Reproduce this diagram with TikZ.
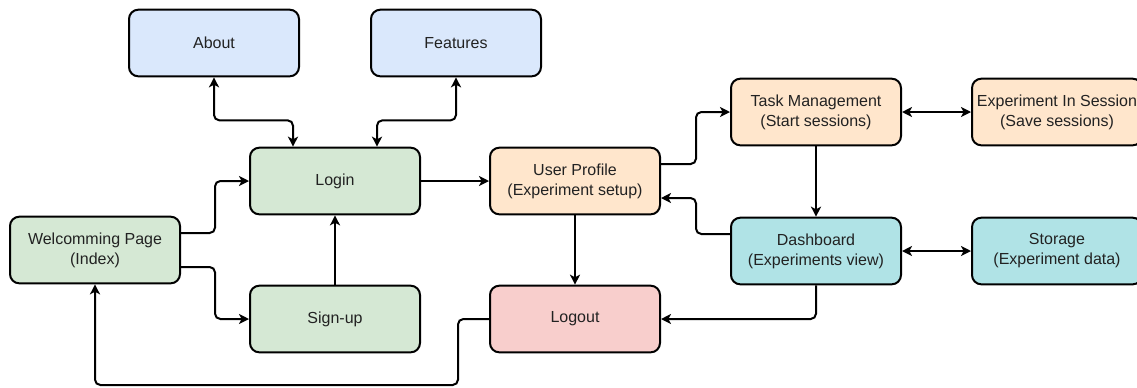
\documentclass[tikz,border=0pt]{standalone}
\usepackage{fontspec}
\setmainfont{Liberation Sans}
\usetikzlibrary{arrows.meta}
\definecolor{cblue}{HTML}{DAE8FC}
\definecolor{cgreen}{HTML}{D5E8D4}
\definecolor{corange}{HTML}{FFE6CC}
\definecolor{cteal}{HTML}{B0E3E6}
\definecolor{cred}{HTML}{F8CECC}
\definecolor{ctext}{HTML}{222222}
\begin{document}
\begin{tikzpicture}[x=0.75pt,y=-0.75pt,
  box/.style={draw=black,line width=1.5pt,rounded corners=7pt,minimum width=127.5pt,minimum height=50pt,inner sep=0pt,align=center,text=ctext,font=\fontsize{12}{15}\selectfont},
  conn/.style={line width=1.5pt,rounded corners=4pt,-{Stealth[length=7.5pt,width=7.5pt,inset=2pt]}},
  bconn/.style={line width=1.5pt,rounded corners=4pt,{Stealth[length=7.5pt,width=7.5pt,inset=2pt]}-{Stealth[length=7.5pt,width=7.5pt,inset=2pt]}}]
\useasboundingbox (0,0) rectangle (1137,387);
\coordinate (bot) at (0,385);
\node[box,fill=cblue] (about) at (214,43) {About};
\node[box,fill=cblue] (features) at (456,43) {Features};
\node[box,fill=cgreen] (login) at (335,181) {Login};
\node[box,fill=corange] (profile) at (575,181) {User Profile\\(Experiment setup)};
\node[box,fill=corange] (task) at (816,112) {Task Management\\(Start sessions)};
\node[box,fill=corange] (session) at (1057,112) {Experiment In Session\\(Save sessions)};
\node[box,fill=cteal] (dash) at (816,251) {Dashboard\\(Experiments view)};
\node[box,fill=cteal] (storage) at (1057,251) {Storage\\(Experiment data)};
\node[box,fill=cgreen] (welcome) at (95,250) {Welcomming Page\\(Index)};
\node[box,fill=cgreen] (signup) at (335,319) {Sign-up};
\node[box,fill=cred] (logout) at (575,319) {Logout};

\draw[bconn] (about.south) -- ++(0,43) -| ([xshift=-31.5pt]login.north);
\draw[bconn] (features.south) -- ++(0,43) -| ([xshift=31.5pt]login.north);
\draw[conn] ([yshift=12.75pt]welcome.east) -- ++(34,0) |- (login.west);
\draw[conn] ([yshift=-12.75pt]welcome.east) -- ++(34,0) |- (signup.west);
\draw[conn] (signup.north) -- (login.south);
\draw[conn] (login.east) -- (profile.west);
\draw[conn] ([yshift=12.75pt]profile.east) -- ++(35,0) |- (task.west);
\draw[conn] ([yshift=12.75pt]dash.west) -- ++(-34,0) |- ([yshift=-12.75pt]profile.east);
\draw[conn] (task.south) -- (dash.north);
\draw[bconn] (task.east) -- (session.west);
\draw[bconn] (dash.east) -- (storage.west);
\draw[conn] (profile.south) -- (logout.north);
\draw[conn] (dash.south) |- (logout.east);
\draw[conn] (logout.west) -- ++(-31,0) |- (welcome.south |- bot) -- (welcome.south);
\end{tikzpicture}
\end{document}
